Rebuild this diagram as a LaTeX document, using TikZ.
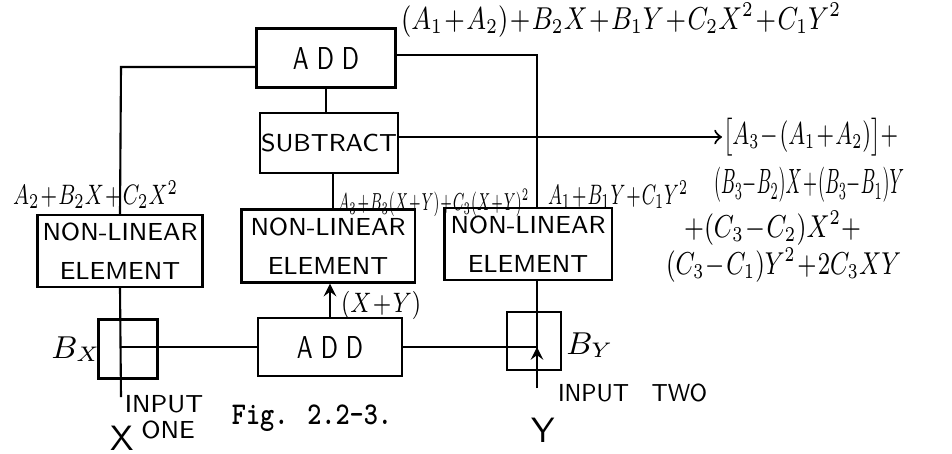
\documentclass[tikz,border=0pt]{standalone}
\usepackage{amsmath}
\usepackage{amssymb}
\usepackage{graphicx}
\usepackage{tikz}

\tikzset{
  blk/.style={draw, inner sep=0pt, font=\sffamily\small, align=center},
  lab/.style={inner sep=0pt, font=\small},
}
\newcommand{\fitw}[2]{\resizebox{#1}{\height}{#2}}
\medmuskip=1mu

\begin{document}
\begin{tikzpicture}[x=0.01cm, y=-0.01cm, semithick]
            \useasboundingbox (0,0) rectangle (952,453);

            % boxes
            \node[blk, minimum width=1.39cm, minimum height=0.59cm] (add1) at (326,58) {\fitw{0.66cm}{A D D}};
            \node[blk, minimum width=1.38cm, minimum height=0.60cm, font=\sffamily\scriptsize] (sub) at (329,143) {SUBTRACT};
            \node[blk, minimum width=1.65cm, minimum height=0.72cm, font=\sffamily\scriptsize] (nl1) at (120,251) {NON-LINEAR\\[3pt]ELEMENT};
            \node[blk, minimum width=1.73cm, minimum height=0.73cm, font=\sffamily\scriptsize] (nl2) at (328,246) {NON-LINEAR\\[3pt]ELEMENT};
            \node[blk, minimum width=1.67cm, minimum height=0.72cm, font=\sffamily\scriptsize] (nl3) at (528,244) {NON-LINEAR\\[3pt]ELEMENT};
            \node[blk, minimum width=1.44cm, minimum height=0.58cm] (add2) at (330,347) {\fitw{0.66cm}{A D D}};
            \node[blk, minimum width=0.59cm, minimum height=0.59cm] (bx) at (128,349) {};
            \node[blk, minimum width=0.54cm, minimum height=0.58cm] (by) at (534,341) {};

            \coordinate (v1) at (121,67);
            \coordinate (v2) at (537,55);
            \coordinate (v3) at (121,397);
            \coordinate (v4) at (537,388);

            % connections
            \draw (nl1.north) -- (v1) -- (add1.west |- v1);
            \draw (add1.east |- v2) -- (v2) -- (v2 |- nl3.north);
            \draw (add1.south) -- (add1.south |- sub.north);
            \draw (333,0 |- sub.south) -- (333,0 |- nl2.north);
            \draw[-stealth] (add2.north) -- (add2.north |- nl2.south);
            \draw (nl1.south) -- (v3);
            \draw (v3 |- add2.west) -- (add2.west);
            \draw (v4) -- (v4 |- nl3.south);
            \draw[-stealth] (v4) -- (v4 |- add2.east);
            \draw (add2.east) -- (v4 |- add2.east);

            % labels
            \node[lab, anchor=west] (t1) at (400,20) {\fitw{4.4cm}{$(A_1+A_2)+B_2X+B_1Y+C_2X^2+C_1Y^2$}};
            \node[lab, anchor=west] (t2) at (722,137) {\fitw{1.75cm}{$\bigl[A_3-(A_1+A_2)\bigr]+$}};
            \draw[->] (sub.east |- t2.west) -- (t2.west);
            \node[lab, anchor=west, font=\footnotesize] (t3) at (12,195) {\fitw{1.65cm}{$A_2+B_2X+C_2X^2$}};
            \node[lab, anchor=west, font=\scriptsize] (t4) at (337,203) {\fitw{1.91cm}{$A_3+B_3(X+Y)+C_3(X+Y)^2$}};
            \node[lab, anchor=west, font=\footnotesize] (t5) at (547,195) {\fitw{1.40cm}{$A_1+B_1Y+C_1Y^2$}};
            \node[lab, anchor=west, font=\normalsize] (t6) at (713,185) {\fitw{1.9cm}{$(B_3{-}B_2)X+(B_3{-}B_1)Y$}};
            \node[lab, anchor=west] (t7) at (683,228) {\fitw{1.77cm}{$+(C_3-C_2)X^2+$}};
            \node[lab, anchor=west] (t8) at (665,265) {\fitw{2.35cm}{$(C_3-C_1)Y^2+2C_3XY$}};
            \node[lab, anchor=west, font=\footnotesize] (t9) at (340,305) {\fitw{0.8cm}{$(X+Y)$}};
            \node[lab] (t10) at (76,349) {$B_X$};
            \node[lab] (t11) at (590,345) {$B_Y$};
            \node[lab, font=\sffamily\scriptsize] (t12) at (164,404) {INPUT};
            \node[lab, font=\sffamily\scriptsize] (t13) at (168,430) {ONE};
            \node[lab, font=\sffamily] (t14) at (122,438) {X};
            \node[lab, font=\sffamily\scriptsize, anchor=west] (t15) at (557,393) {\fitw{1.49cm}{INPUT\quad TWO}};
            \node[lab, font=\sffamily] (t16) at (543,430) {Y};
            \node[lab, font=\ttfamily\bfseries\small] (t17) at (312,418) {\fitw{1.6cm}{Fig. 2.2-3.}};
        \end{tikzpicture}
\end{document}
